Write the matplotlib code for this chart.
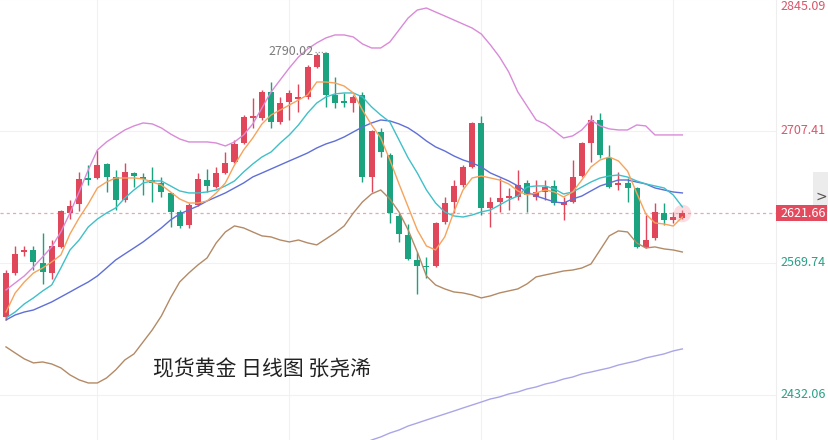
import matplotlib
matplotlib.use('Agg')
import matplotlib.pyplot as plt
from matplotlib.patches import Rectangle
from matplotlib.transforms import blended_transform_factory
import numpy as np

plt.rcParams['font.family'] = ['Noto Sans CJK SC', 'DejaVu Sans']

# ---------------- data ----------------
opens = [2513.4, 2559.3, 2581.2, 2583.3, 2569.7, 2559.3, 2586.4, 2621.9, 2631.3, 2658.4,
         2658.4, 2673.0, 2659.4, 2635.5, 2663.6, 2659.4, 2656.3, 2653.2, 2642.8, 2622.9,
         2609.4, 2630.2, 2656.3, 2649.0, 2663.6, 2675.1, 2694.9, 2721.0, 2721.0, 2748.1,
         2716.8, 2737.7, 2740.8, 2742.9, 2774.2, 2788.8, 2745.0, 2738.7, 2736.6, 2745.0,
         2659.4, 2706.4, 2682.4, 2618.8, 2599.0, 2572.9, 2566.6, 2566.6, 2612.5, 2633.4,
         2651.1, 2669.9, 2715.8, 2627.1, 2633.4, 2637.5, 2638.6, 2653.2, 2638.6, 2643.8,
         2650.1, 2630.2, 2633.4, 2660.5, 2694.9, 2718.9, 2679.3, 2651.1, 2653.2, 2648.0,
         2586.4, 2595.8, 2621.9, 2614.6, 2616.7]
highs = [2562.4, 2587.5, 2587.5, 2587.5, 2601.0, 2593.7, 2625.0, 2635.5, 2664.6, 2672.0,
         2687.6, 2674.0, 2666.8, 2674.0, 2664.6, 2663.6, 2669.9, 2659.4, 2642.8, 2625.0,
         2632.3, 2663.6, 2667.8, 2669.9, 2685.5, 2698.0, 2724.1, 2741.8, 2750.2, 2758.5,
         2742.9, 2750.2, 2756.4, 2776.3, 2788.8, 2790.02, 2763.8, 2747.1, 2745.0, 2748.1,
         2708.4, 2710.5, 2684.5, 2621.9, 2610.4, 2581.2, 2576.0, 2612.5, 2638.6, 2656.3,
         2672.0, 2716.8, 2723.1, 2638.6, 2658.4, 2648.0, 2666.8, 2656.3, 2656.3, 2656.3,
         2656.3, 2638.6, 2677.2, 2696.0, 2724.1, 2726.2, 2692.9, 2664.6, 2658.4, 2649.0,
         2619.8, 2632.3, 2632.3, 2622.9, 2625.0]
lows = [2510.3, 2557.2, 2577.0, 2562.4, 2547.8, 2553.0, 2585.4, 2615.6, 2624.0, 2651.1,
        2657.4, 2643.8, 2625.0, 2633.4, 2649.0, 2640.7, 2633.4, 2638.6, 2607.3, 2606.2,
        2606.2, 2629.2, 2643.8, 2648.0, 2662.6, 2674.0, 2693.9, 2710.5, 2718.9, 2710.5,
        2714.7, 2718.9, 2727.2, 2740.8, 2773.1, 2732.5, 2731.4, 2732.5, 2727.2, 2654.2,
        2643.8, 2680.3, 2611.5, 2591.7, 2572.9, 2537.4, 2554.1, 2565.6, 2610.4, 2621.9,
        2649.0, 2668.8, 2619.8, 2607.3, 2622.9, 2625.0, 2635.5, 2622.9, 2635.5, 2635.5,
        2630.2, 2614.6, 2632.3, 2659.4, 2675.1, 2679.3, 2648.0, 2645.9, 2633.4, 2585.4,
        2585.4, 2593.7, 2609.4, 2611.5, 2615.6]
closes = [2559.3, 2579.1, 2583.3, 2570.8, 2560.4, 2587.5, 2624.0, 2629.2, 2657.4, 2656.3,
          2672.0, 2659.4, 2635.5, 2664.6, 2660.5, 2657.4, 2653.2, 2643.8, 2622.9, 2608.3,
          2630.2, 2657.4, 2650.1, 2663.6, 2674.0, 2693.9, 2722.0, 2723.1, 2748.1, 2716.8,
          2736.6, 2747.1, 2742.9, 2774.2, 2786.7, 2745.0, 2736.6, 2736.6, 2742.9, 2659.4,
          2707.4, 2685.5, 2621.9, 2600.0, 2573.9, 2566.6, 2565.6, 2611.5, 2632.3, 2650.1,
          2669.9, 2715.8, 2627.1, 2633.4, 2637.5, 2639.6, 2651.1, 2640.7, 2643.8, 2649.0,
          2632.3, 2633.4, 2659.4, 2694.9, 2718.9, 2682.4, 2649.0, 2653.2, 2648.0, 2586.4,
          2593.7, 2622.9, 2614.6, 2617.7, 2621.66]

ma5 = [2518.6, 2538.4, 2549.9, 2559.3, 2564.5, 2570.8, 2578.1, 2600.0, 2616.7, 2631.3,
       2648.0, 2654.2, 2658.4, 2658.4, 2658.4, 2657.4, 2654.2, 2651.1, 2643.8, 2636.5,
       2632.3, 2632.3, 2634.4, 2642.8, 2653.2, 2672.0, 2687.6, 2700.1, 2714.7, 2724.1,
       2729.3, 2734.5, 2739.7, 2745.0, 2758.5, 2758.5, 2757.5, 2754.3, 2747.1, 2729.3,
       2713.7, 2700.1, 2677.2, 2652.2, 2628.2, 2604.2, 2587.5, 2583.3, 2596.9, 2623.0,
       2645.9, 2658.4, 2660.5, 2658.4, 2656.3, 2652.2, 2644.9, 2640.7, 2642.8, 2645.9,
       2643.8, 2638.6, 2643.8, 2656.3, 2669.9, 2677.2, 2680.3, 2676.2, 2665.7, 2642.8,
       2620.9, 2611.5, 2610.4, 2608.3, 2617.7]
ma10 = [2512.4, 2518.6, 2527.0, 2533.3, 2540.5, 2546.8, 2564.5, 2583.3, 2593.7, 2607.3,
        2615.6, 2621.9, 2627.1, 2637.5, 2645.9, 2653.2, 2655.3, 2655.3, 2650.1, 2644.9,
        2642.8, 2642.8, 2643.8, 2645.9, 2650.1, 2655.3, 2664.7, 2673.0, 2680.3, 2685.5,
        2694.9, 2703.3, 2713.7, 2726.2, 2736.6, 2742.9, 2746.1, 2747.1, 2747.1, 2742.9,
        2732.5, 2724.1, 2716.8, 2698.0, 2679.3, 2663.6, 2645.9, 2632.3, 2623.0, 2618.8,
        2617.7, 2619.8, 2623.0, 2625.0, 2630.2, 2635.5, 2639.6, 2649.0, 2650.1, 2650.1,
        2647.0, 2641.7, 2643.8, 2649.0, 2654.2, 2658.4, 2660.5, 2661.5, 2659.4, 2655.3,
        2652.2, 2650.1, 2648.0, 2640.7, 2628.2]
ma20 = [2510.3, 2515.5, 2518.6, 2520.7, 2524.9, 2529.1, 2534.3, 2539.5, 2544.8, 2549.9,
        2556.2, 2564.5, 2572.9, 2579.2, 2585.4, 2591.7, 2599.0, 2606.3, 2614.6, 2620.9,
        2625.0, 2629.2, 2634.4, 2638.6, 2642.8, 2648.0, 2653.2, 2659.5, 2663.6, 2667.8,
        2672.0, 2676.2, 2680.3, 2684.5, 2689.7, 2693.9, 2697.0, 2701.2, 2706.4, 2711.6,
        2715.8, 2718.9, 2717.9, 2714.8, 2710.6, 2704.3, 2697.0, 2690.8, 2686.6, 2681.4,
        2677.2, 2674.1, 2669.9, 2663.6, 2659.5, 2655.3, 2650.1, 2643.8, 2639.6, 2636.5,
        2633.4, 2632.3, 2636.5, 2639.6, 2644.9, 2650.1, 2653.2, 2656.3, 2656.3, 2654.2,
        2652.2, 2648.0, 2645.9, 2643.8, 2642.8]
boll_up = [2541.6, 2548.9, 2556.2, 2565.6, 2576.0, 2586.5, 2602.1, 2621.9, 2643.8, 2666.8,
           2687.6, 2696.0, 2702.3, 2708.5, 2712.7, 2715.8, 2714.8, 2710.6, 2704.3, 2699.1,
           2696.0, 2696.0, 2696.0, 2694.9, 2691.8, 2696.0, 2703.3, 2714.8, 2731.5, 2748.1,
           2760.7, 2773.2, 2784.6, 2793.0, 2799.3, 2804.5, 2807.6, 2807.6, 2805.5, 2798.2,
           2794.0, 2794.0, 2800.3, 2812.8, 2825.3, 2833.6, 2835.7, 2831.5, 2827.4, 2823.2,
           2819.0, 2814.8, 2808.6, 2797.2, 2784.6, 2769.0, 2748.1, 2733.5, 2718.9, 2714.8,
           2707.5, 2700.1, 2702.3, 2708.5, 2718.9, 2712.7, 2709.6, 2708.5, 2708.5, 2713.7,
           2712.7, 2703.3, 2703.3, 2703.3, 2703.3]
boll_dn = [2482.2, 2475.9, 2469.7, 2465.5, 2466.5, 2464.4, 2460.3, 2453.0, 2447.8, 2444.6,
           2444.6, 2449.8, 2458.2, 2468.6, 2474.9, 2487.4, 2499.9, 2514.5, 2533.3, 2549.9,
           2559.3, 2567.7, 2575.0, 2590.7, 2602.1, 2608.4, 2606.3, 2602.1, 2598.0, 2596.9,
           2593.7, 2591.7, 2593.7, 2590.7, 2588.6, 2594.8, 2601.1, 2608.4, 2621.9, 2633.4,
           2641.8, 2645.9, 2636.5, 2622.9, 2604.2, 2581.2, 2556.2, 2546.8, 2542.7, 2539.5,
           2538.5, 2536.4, 2533.3, 2535.4, 2538.5, 2540.6, 2542.7, 2547.9, 2555.2, 2557.3,
           2559.3, 2561.4, 2562.4, 2564.5, 2568.7, 2583.3, 2598.0, 2603.2, 2602.1, 2590.7,
           2585.4, 2586.5, 2584.4, 2583.3, 2581.2]
ma_long_start = 38
ma_long = [2377.8, 2380.9, 2385.1, 2388.3, 2392.4, 2395.5, 2399.7, 2402.8, 2406.0, 2409.1,
           2412.2, 2415.3, 2418.5, 2421.6, 2424.7, 2427.9, 2430.0, 2433.1, 2435.2, 2438.3,
           2440.4, 2443.5, 2445.6, 2448.7, 2450.8, 2454.0, 2456.0, 2458.2, 2460.3, 2463.3,
           2465.5, 2467.6, 2470.7, 2472.8, 2474.9, 2478.0, 2480.1]

tick_values = [2845.09, 2707.41, 2569.74, 2432.06]
last_price = 2621.66
peak_value = 2790.02
peak_index = 35
title_text = '现货黄金 日线图 张尧浠'

# ---------------- styling ----------------
UP = '#e0475b'
DOWN = '#1ba37f'
W, H = 829, 440
PLOT_W = 776
Y_TOP, Y_BOT = 2844.05, 2385.1

fig = plt.figure(figsize=(W / 100, H / 100), dpi=100)
fig.patch.set_facecolor('white')
ax = fig.add_axes([0, 0, PLOT_W / W, 1])
ax.set_facecolor('white')

n = len(closes)
idx = np.arange(n)
x_left = -6 / 9.14
x_right = x_left + PLOT_W / 9.14
ax.set_xlim(x_left, x_right)
ax.set_ylim(Y_BOT, Y_TOP)
for s in ax.spines.values():
    s.set_visible(False)
ax.set_xticks([])
ax.set_yticks([])

# grid
for v in tick_values:
    ax.axhline(v, color='#f1f1f1', lw=0.8, zorder=0)
for gx in [10, 31, 52, 73]:
    ax.axvline(gx, color='#f1f1f1', lw=0.8, zorder=0)

# current price dotted line
ax.axhline(last_price, color='#eba6b0', lw=0.9, ls=(0, (2.5, 2.5)), zorder=1)

# candles
o = np.array(opens); c = np.array(closes); h = np.array(highs); l = np.array(lows)
cols = [UP if cc >= oo else DOWN for oo, cc in zip(o, c)]
ax.vlines(idx, l, h, colors=cols, lw=1.0, zorder=2)
bottoms = np.minimum(o, c)
heights = np.maximum(np.abs(c - o), 1.4)
ax.bar(idx, heights, bottom=bottoms, width=0.66, color=cols, zorder=3, linewidth=0)

# glow on last candle
ax.scatter([n - 1], [closes[-1]], s=160, color='#f4a0aa', alpha=0.35, zorder=2, linewidths=0)

# lines
lw = 1.0
ax.plot(idx, boll_up, color='#d98ad8', lw=lw, zorder=4)
ax.plot(idx, boll_dn, color='#b38a66', lw=lw, zorder=4)
ax.plot(idx, ma20, color='#5f6fd8', lw=lw, zorder=4)
ax.plot(idx, ma10, color='#3fc0c8', lw=lw, zorder=4)
ax.plot(idx, ma5, color='#f6a35c', lw=lw, zorder=4)
ax.plot(np.arange(ma_long_start, ma_long_start + len(ma_long)), ma_long,
        color='#aaa6e6', lw=lw, zorder=4)

# peak label
ax.text(peak_index - 1.3, peak_value, f'{peak_value:.2f}', ha='right', va='center',
        fontsize=9, color='#7b7b7b', zorder=5)
ax.plot([peak_index - 1.2, peak_index - 0.1], [peak_value, peak_value],
        color='#9a9a9a', lw=0.9, ls=(0, (1, 1.5)), zorder=5)

# title text
fig.text(153 / W, 1 - 369 / H, title_text, fontsize=15, color='#222222',
         ha='left', va='center', zorder=6)

# right axis
fig.add_artist(plt.Line2D([PLOT_W / W, PLOT_W / W], [0, 1], transform=fig.transFigure,
                          color='#eeeeee', lw=0.8))


def fig_y(v):
    return (v - Y_BOT) / (Y_TOP - Y_BOT)


label_x = 780 / W
for v in tick_values:
    color = '#d9576a' if v > last_price else '#2aa088'
    yy = min(fig_y(v), 1 - 7 / H)
    fig.text(label_x, yy, f'{v:.2f}', fontsize=9, color=color, ha='left', va='center')

# current price box
fig.add_artist(Rectangle((776 / W, (H - 221) / H), 51 / W, 16 / H, transform=fig.transFigure,
                         facecolor='#e34a5d', edgecolor='none', zorder=5))
fig.text(label_x, fig_y(last_price), f'{last_price:.2f}', fontsize=9, color='white',
         ha='left', va='center', zorder=10)

# side chevron tab
fig.add_artist(Rectangle((813 / W, (H - 212) / H), 16 / W, 40 / H, transform=fig.transFigure,
                         facecolor='#ececec', edgecolor='none', zorder=4))
fig.text(821 / W, 1 - 197 / H, '>', fontsize=10, color='#555555', ha='center', va='center',
         family='DejaVu Sans', zorder=6)

fig.savefig('out.png', dpi=100, facecolor='white')
